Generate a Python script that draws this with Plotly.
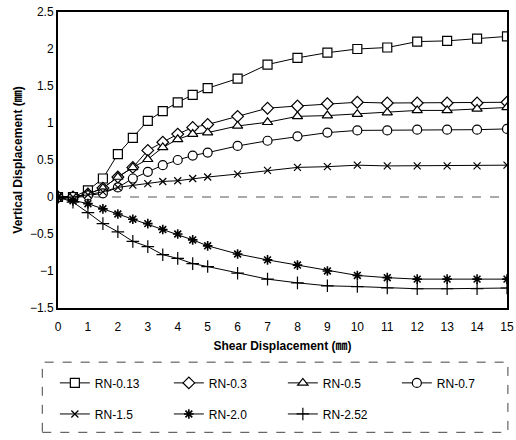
import plotly.graph_objects as go

shear = [0, 0.5, 1, 1.5, 2, 2.5, 3, 3.5, 4, 4.5, 5, 6, 7, 8, 9, 10, 11, 12, 13, 14, 15]

rn_013 = [0, 0, 0.09, 0.25, 0.58, 0.80, 1.03, 1.16, 1.28, 1.38, 1.47, 1.60, 1.79, 1.88, 1.95, 2.00, 2.02, 2.10, 2.11, 2.14, 2.17]
rn_03  = [0, 0, 0.04, 0.12, 0.27, 0.40, 0.63, 0.74, 0.85, 0.94, 0.98, 1.09, 1.20, 1.23, 1.26, 1.28, 1.27, 1.27, 1.27, 1.27, 1.28]
rn_05  = [0, 0, 0.04, 0.12, 0.27, 0.40, 0.51, 0.67, 0.78, 0.85, 0.87, 0.96, 1.01, 1.09, 1.10, 1.12, 1.14, 1.17, 1.17, 1.19, 1.21]
rn_07  = [0, 0, 0.02, 0.05, 0.13, 0.25, 0.34, 0.43, 0.50, 0.56, 0.60, 0.69, 0.76, 0.82, 0.87, 0.90, 0.90, 0.91, 0.91, 0.91, 0.92]
rn_15  = [0, 0, 0.03, 0.07, 0.13, 0.16, 0.18, 0.21, 0.22, 0.25, 0.27, 0.31, 0.36, 0.40, 0.41, 0.43, 0.42, 0.42, 0.42, 0.42, 0.43]
rn_20  = [0, -0.05, -0.09, -0.16, -0.23, -0.30, -0.36, -0.44, -0.50, -0.58, -0.66, -0.77, -0.85, -0.92, -1.00, -1.06, -1.09, -1.11, -1.11, -1.11, -1.11]
rn_252 = [0, -0.07, -0.21, -0.36, -0.47, -0.60, -0.67, -0.78, -0.83, -0.90, -0.94, -1.03, -1.11, -1.16, -1.20, -1.21, -1.23, -1.24, -1.24, -1.24, -1.23]

names = ["RN-0.13", "RN-0.3", "RN-0.5", "RN-0.7", "RN-1.5", "RN-2.0", "RN-2.52"]
series = [rn_013, rn_03, rn_05, rn_07, rn_15, rn_20, rn_252]

x_ticks = list(range(0, 16))
y_ticks = [-1.5, -1, -0.5, 0, 0.5, 1, 1.5, 2, 2.5]

styles = [
    dict(symbol="square", size=9, color="white", lw=1.2, legend="legend"),
    dict(symbol="diamond", size=9, color="white", lw=1.2, legend="legend"),
    dict(symbol="triangle-up", size=9, color="white", lw=1.2, legend="legend"),
    dict(symbol="circle", size=9, color="white", lw=1.2, legend="legend"),
    dict(symbol="x-thin-open", size=7, color="black", lw=1.2, legend="legend2"),
    dict(symbol="asterisk-open", size=8, color="black", lw=1.6, legend="legend2"),
    dict(symbol="cross-thin-open", size=9, color="black", lw=1.2, legend="legend2"),
]

fig = go.Figure()

fig.add_shape(type="line", xref="x", yref="y", x0=0, x1=15, y0=0, y1=0,
              line=dict(color="#555555", width=1, dash="dash"), layer="below")

for name, ys, st in zip(names, series, styles):
    fig.add_trace(go.Scatter(
        x=shear, y=ys, name=name, mode="lines+markers", legend=st["legend"],
        line=dict(color="black", width=1),
        marker=dict(symbol=st["symbol"], size=st["size"], color=st["color"],
                    line=dict(color="black", width=st["lw"])),
    ))

font_family = "Arial, 'Liberation Sans', 'Noto Sans CJK KR', sans-serif"
leg_common = dict(orientation="h", x=-0.007, xanchor="left", yanchor="middle",
                  entrywidth=69, entrywidthmode="pixels",
                  font=dict(family=font_family, size=12, color="black"),
                  bgcolor="rgba(0,0,0,0)", borderwidth=0)

fig.update_layout(
    width=516, height=440,
    margin=dict(l=58, r=9, t=12, b=132),
    paper_bgcolor="white", plot_bgcolor="white",
    font=dict(family=font_family, size=12, color="black"),
    showlegend=True,
    legend=dict(y=-0.253, **leg_common),
    legend2=dict(y=-0.358, **leg_common),
    xaxis=dict(range=[0, 15], tickvals=x_ticks, showgrid=False, zeroline=False,
               showline=True, linecolor="black", linewidth=2, mirror=True,
               ticks="outside", ticklen=7, tickcolor="rgba(0,0,0,0)",
               automargin=False, ticklabeloverflow="allow",
               title=dict(text="<b>Shear Displacement (㎜)</b>", font=dict(size=12), standoff=8)),
    yaxis=dict(range=[-1.5, 2.5], tickvals=y_ticks, showgrid=False, zeroline=False,
               showline=True, linecolor="black", linewidth=2, mirror=True,
               ticks="", ticklen=0, automargin=False, ticklabeloverflow="allow",
               title=dict(text="<b>Vertical Displacement (㎜)</b>", font=dict(size=12), standoff=5)),
)

fig.add_shape(type="rect", xref="paper", yref="paper",
              x0=-0.035, x1=1.002, y0=-0.42, y1=-0.183,
              line=dict(color="#444444", width=1, dash="dash"))

fig.write_html(
    "out.html",
    config={"displayModeBar": False},
    post_script="document.body.style.margin='0';document.documentElement.style.overflow='hidden';",
)
